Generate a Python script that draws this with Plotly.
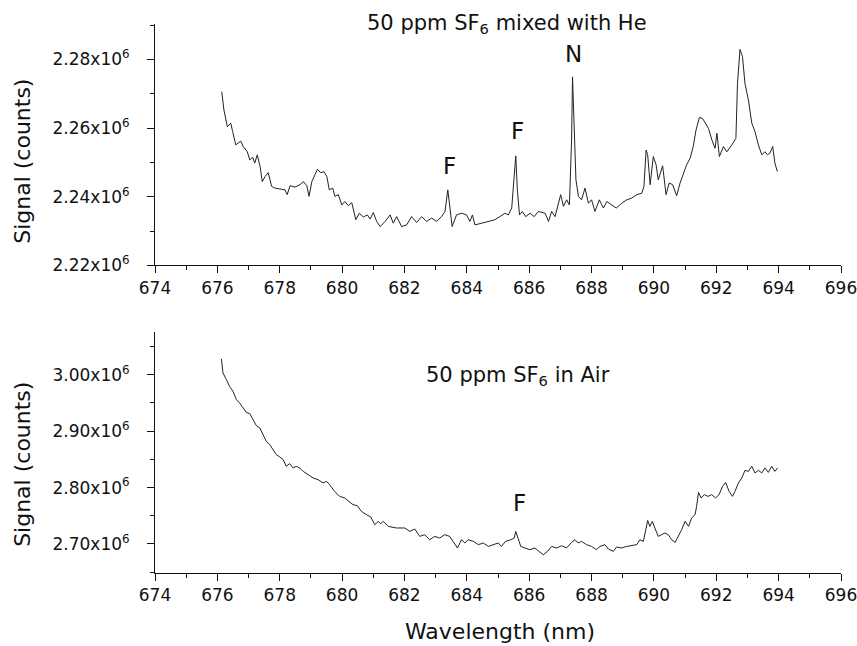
import numpy as np
import plotly.graph_objects as go

# ---- Data ----
wl_he = [676.14, 676.21, 676.32, 676.43, 676.49, 676.59, 676.75, 676.83, 676.96, 677.04,
         677.13, 677.20, 677.28, 677.37, 677.44, 677.53, 677.63, 677.74, 677.85, 678.01,
         678.17, 678.24, 678.33, 678.49, 678.65, 678.76, 678.87, 678.94, 679.03, 679.13,
         679.21, 679.31, 679.42, 679.51, 679.59, 679.70, 679.77, 679.88, 679.99, 680.09,
         680.20, 680.31, 680.44, 680.55, 680.68, 680.81, 680.90, 681.00, 681.11, 681.22,
         681.38, 681.54, 681.64, 681.75, 681.91, 682.07, 682.23, 682.39, 682.55, 682.71,
         682.87, 683.03, 683.19, 683.30, 683.39, 683.46, 683.53, 683.67, 683.83, 683.99,
         684.10, 684.18, 684.26, 684.48, 684.69, 684.90, 685.06, 685.23, 685.33, 685.44,
         685.51, 685.57, 685.62, 685.69, 685.78, 685.89, 686.03, 686.16, 686.29, 686.51,
         686.62, 686.72, 686.83, 686.94, 687.01, 687.10, 687.20, 687.29, 687.36, 687.39,
         687.44, 687.50, 687.58, 687.68, 687.79, 687.90, 688.00, 688.11, 688.25, 688.38,
         688.49, 688.65, 688.79, 688.97, 689.13, 689.29, 689.45, 689.61, 689.68, 689.75,
         689.80, 689.88, 689.98, 690.07, 690.14, 690.22, 690.28, 690.39, 690.49, 690.60,
         690.73, 690.84, 690.96, 691.05, 691.16, 691.26, 691.35, 691.46, 691.56, 691.67,
         691.75, 691.86, 691.96, 692.02, 692.10, 692.23, 692.34, 692.50, 692.63, 692.68,
         692.76, 692.84, 692.92, 693.03, 693.14, 693.24, 693.35, 693.46, 693.56, 693.64,
         693.72, 693.81, 693.88, 693.96]
sig_he_m = [2.2706, 2.2653, 2.2604, 2.2614, 2.2590, 2.2551, 2.2562, 2.2546, 2.2531, 2.2507,
            2.2515, 2.2498, 2.2522, 2.2488, 2.2444, 2.2459, 2.2470, 2.2430, 2.2425, 2.2422,
            2.2420, 2.2406, 2.2432, 2.2428, 2.2435, 2.2444, 2.2432, 2.2401, 2.2444, 2.2464,
            2.2480, 2.2470, 2.2473, 2.2459, 2.2420, 2.2425, 2.2401, 2.2406, 2.2376, 2.2386,
            2.2374, 2.2383, 2.2333, 2.2352, 2.2341, 2.2347, 2.2335, 2.2354, 2.2328, 2.2313,
            2.2328, 2.2347, 2.2323, 2.2342, 2.2313, 2.2318, 2.2342, 2.2325, 2.2342, 2.2328,
            2.2338, 2.2328, 2.2342, 2.2357, 2.2420, 2.2367, 2.2313, 2.2347, 2.2352, 2.2347,
            2.2328, 2.2347, 2.2318, 2.2323, 2.2328, 2.2333, 2.2342, 2.2352, 2.2347, 2.2367,
            2.2449, 2.2519, 2.2420, 2.2347, 2.2357, 2.2342, 2.2352, 2.2342, 2.2357, 2.2352,
            2.2328, 2.2357, 2.2342, 2.2381, 2.2406, 2.2372, 2.2391, 2.2376, 2.2565, 2.2749,
            2.2614, 2.2449, 2.2401, 2.2391, 2.2425, 2.2381, 2.2391, 2.2357, 2.2391, 2.2367,
            2.2386, 2.2376, 2.2367, 2.2381, 2.2391, 2.2396, 2.2406, 2.2410, 2.2430, 2.2536,
            2.2522, 2.2435, 2.2517, 2.2493, 2.2449, 2.2473, 2.2490, 2.2406, 2.2440, 2.2435,
            2.2403, 2.2440, 2.2469, 2.2493, 2.2512, 2.2546, 2.2594, 2.2631, 2.2628, 2.2609,
            2.2599, 2.2565, 2.2541, 2.2585, 2.2517, 2.2546, 2.2531, 2.2551, 2.2570, 2.2730,
            2.2829, 2.2808, 2.2730, 2.2682, 2.2614, 2.2590, 2.2551, 2.2522, 2.2531, 2.2522,
            2.2527, 2.2546, 2.2498, 2.2473]

wl_air = [676.13, 676.18, 676.29, 676.39, 676.50, 676.61, 676.71, 676.82, 676.93, 677.04,
          677.15, 677.25, 677.36, 677.47, 677.57, 677.68, 677.79, 677.89, 678.00, 678.11,
          678.21, 678.32, 678.43, 678.53, 678.64, 678.75, 678.91, 679.07, 679.23, 679.39,
          679.50, 679.60, 679.76, 679.92, 680.08, 680.21, 680.35, 680.49, 680.62, 680.78,
          680.92, 681.05, 681.16, 681.24, 681.32, 681.48, 681.74, 682.01, 682.17, 682.33,
          682.49, 682.65, 682.81, 682.97, 683.13, 683.29, 683.45, 683.56, 683.70, 683.83,
          683.94, 684.04, 684.21, 684.37, 684.53, 684.69, 684.85, 685.01, 685.11, 685.24,
          685.41, 685.52, 685.57, 685.65, 685.73, 685.86, 686.02, 686.18, 686.31, 686.45,
          686.59, 686.72, 686.88, 687.04, 687.20, 687.36, 687.47, 687.57, 687.68, 687.84,
          688.00, 688.16, 688.27, 688.43, 688.54, 688.70, 688.80, 688.96, 689.13, 689.29,
          689.45, 689.55, 689.66, 689.74, 689.80, 689.87, 689.95, 690.03, 690.14, 690.25,
          690.35, 690.46, 690.57, 690.68, 690.78, 690.89, 691.00, 691.11, 691.21, 691.32,
          691.37, 691.43, 691.51, 691.62, 691.73, 691.85, 691.98, 692.09, 692.20, 692.30,
          692.41, 692.52, 692.60, 692.71, 692.82, 692.92, 693.03, 693.14, 693.24, 693.35,
          693.46, 693.56, 693.67, 693.78, 693.88, 693.97]
sig_air_m = [3.0280, 3.0032, 2.9913, 2.9794, 2.9706, 2.9559, 2.9500, 2.9411, 2.9333, 2.9310,
             2.9204, 2.9098, 2.9057, 2.8938, 2.8819, 2.8761, 2.8672, 2.8583, 2.8543, 2.8495,
             2.8376, 2.8424, 2.8348, 2.8376, 2.8348, 2.8287, 2.8229, 2.8170, 2.8140, 2.8082,
             2.8110, 2.8051, 2.7933, 2.7844, 2.7816, 2.7755, 2.7697, 2.7679, 2.7578, 2.7520,
             2.7479, 2.7342, 2.7401, 2.7360, 2.7401, 2.7312, 2.7284, 2.7284, 2.7223, 2.7266,
             2.7135, 2.7165, 2.7076, 2.7135, 2.7106, 2.7165, 2.7135, 2.7046, 2.6929, 2.7076,
             2.7018, 2.7076, 2.7046, 2.6988, 2.7018, 2.6957, 2.6988, 2.7018, 2.6957, 2.7046,
             2.7076, 2.7106, 2.7223, 2.7106, 2.6957, 2.6929, 2.6899, 2.6929, 2.6869, 2.6810,
             2.6869, 2.6957, 2.6929, 2.6970, 2.6929, 2.7030, 2.7076, 2.7018, 2.7046, 2.6988,
             2.6957, 2.6899, 2.6957, 2.6988, 2.6911, 2.6869, 2.6947, 2.6929, 2.6957, 2.6970,
             2.6988, 2.7076, 2.7046, 2.7254, 2.7418, 2.7312, 2.7401, 2.7284, 2.7135, 2.7165,
             2.7195, 2.7165, 2.7076, 2.7028, 2.7135, 2.7254, 2.7401, 2.7312, 2.7461, 2.7520,
             2.7667, 2.7915, 2.7816, 2.7874, 2.7844, 2.7874, 2.7816, 2.7874, 2.8021, 2.8092,
             2.7933, 2.7844, 2.7933, 2.8082, 2.8170, 2.8305, 2.8287, 2.8376, 2.8259, 2.8305,
             2.8259, 2.8348, 2.8270, 2.8376, 2.8287, 2.8348]

x_ticks = [674, 676, 678, 680, 682, 684, 686, 688, 690, 692, 694, 696]
y_ticks_he_m = [2.22, 2.24, 2.26, 2.28]
y_ticks_air_m = [2.70, 2.80, 2.90, 3.00]

sig_he = np.array(sig_he_m) * 1e6
sig_air = np.array(sig_air_m) * 1e6

FONT = "DejaVu Sans"
black = "#111111"

fig = go.Figure()
fig.add_trace(go.Scatter(x=wl_he, y=sig_he, mode="lines", xaxis="x", yaxis="y",
                         line=dict(color="#222222", width=1), showlegend=False))
fig.add_trace(go.Scatter(x=wl_air, y=sig_air, mode="lines", xaxis="x2", yaxis="y2",
                         line=dict(color="#222222", width=1), showlegend=False))

def xax(anchor):
    return dict(range=[674, 696], tickvals=x_ticks, ticktext=[str(t) for t in x_ticks],
                showline=True, linecolor=black, linewidth=1, mirror=False,
                ticks="outside", ticklen=7, tickwidth=1, tickcolor=black,
                minor=dict(ticks="outside", ticklen=4, dtick=1, tick0=674, tickcolor=black),
                showgrid=False, zeroline=False, anchor=anchor, automargin=False,
                ticklabeloverflow="allow",
                tickfont=dict(family=FONT, size=17, color=black))

def yax(rng, vals_m, domain, minor_dtick, anchor):
    return dict(range=rng, domain=domain, anchor=anchor,
                tickvals=[v * 1e6 for v in vals_m],
                ticktext=["%.2fx10<sup>6</sup>" % v for v in vals_m],
                showline=True, linecolor=black, linewidth=1,
                ticks="outside", ticklen=7, tickwidth=1, tickcolor=black,
                minor=dict(ticks="outside", ticklen=4, dtick=minor_dtick, tick0=vals_m[0] * 1e6,
                           tickcolor=black),
                showgrid=False, zeroline=False, automargin=False,
                ticklabeloverflow="allow", ticklabelstandoff=14,
                tickfont=dict(family=FONT, size=17, color=black))

fig.update_layout(
    width=857, height=646,
    margin=dict(l=155, r=16, t=24, b=73, autoexpand=False),
    paper_bgcolor="white", plot_bgcolor="white",
    xaxis=xax("y"),
    yaxis=yax([2.22e6, 2.2903e6], y_ticks_he_m, [0.5603, 1.0], 0.01e6, "x"),
    xaxis2=xax("y2"),
    yaxis2=yax([2.6486e6, 3.0757e6], y_ticks_air_m, [0.0, 0.439], 0.05e6, "x2"),
)

ann = []
# axis titles
ann.append(dict(text="Signal (counts)", x=-0.1924, y=0.749, xref="paper", yref="paper",
                textangle=-90, showarrow=False, xanchor="center", yanchor="middle",
                font=dict(family=FONT, size=22, color=black)))
ann.append(dict(text="Signal (counts)", x=-0.1924, y=0.197, xref="paper", yref="paper",
                textangle=-90, showarrow=False, xanchor="center", yanchor="middle",
                font=dict(family=FONT, size=22, color=black)))
ann.append(dict(text="Wavelength (nm)", x=0.503, y=-0.107, xref="paper", yref="paper",
                showarrow=False, xanchor="center", yanchor="middle",
                font=dict(family=FONT, size=22, color=black)))
# panel titles
ann.append(dict(text="50 ppm SF<sub>6</sub> mixed with He", x=0.5125, y=1.0, xref="paper",
                yref="paper", showarrow=False, xanchor="center", yanchor="middle",
                font=dict(family=FONT, size=21, color=black)))
ann.append(dict(text="50 ppm SF<sub>6</sub> in Air", x=0.5296, y=0.359, xref="paper",
                yref="paper", showarrow=False, xanchor="center", yanchor="middle",
                font=dict(family=FONT, size=21, color=black)))
# line labels
for txt, lx, ly, xr, yr in [("F", 683.43, 2.249e6, "x", "y"),
                            ("F", 685.61, 2.2592e6, "x", "y"),
                            ("N", 687.43, 2.2817e6, "x", "y"),
                            ("F", 685.68, 2.7725e6, "x2", "y2")]:
    ann.append(dict(text=txt, x=lx, y=ly, xref=xr, yref=yr, showarrow=False,
                    xanchor="center", yanchor="middle",
                    font=dict(family=FONT, size=23, color=black)))

fig.update_layout(annotations=ann)
# remove the default page margin so the 857x646 figure fills the window exactly
fig.write_html("out.html", config={"displayModeBar": False},
               post_script="document.body.style.margin='0';document.body.style.overflow='hidden';")
